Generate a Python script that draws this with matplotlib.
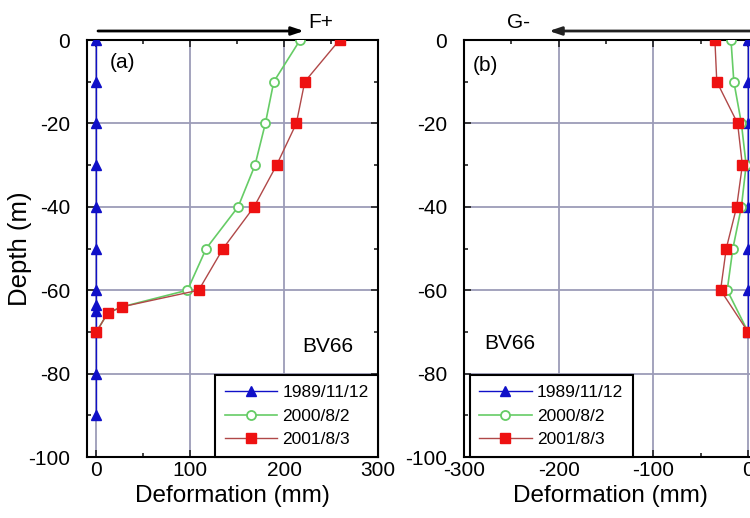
import matplotlib
matplotlib.use('Agg')
import matplotlib.pyplot as plt
from matplotlib.ticker import MultipleLocator

plt.rcParams['font.family'] = ['Liberation Sans', 'DejaVu Sans']
plt.rcParams['axes.unicode_minus'] = False

labels = ['1989/11/12', '2000/8/2', '2001/8/3']

# Panel (a) data
a_depth_1989 = [0, -10, -20, -30, -40, -50, -60, -63.5, -65, -70, -80, -90]
a_def_1989 = [0, 0, 0, 0, 0, 0, 0, 0, 0, 0, 0, 0]
a_depth_2000 = [0, -10, -20, -30, -40, -50, -60, -64, -65.5, -70]
a_def_2000 = [217, 189, 180, 169, 151, 117, 97, 27, 12, 0]
a_depth_2001 = [0, -10, -20, -30, -40, -50, -60, -64, -65.5, -70]
a_def_2001 = [259, 222, 213, 192, 168, 135, 109, 27, 12, 0]

# Panel (b) data
b_depth = [0, -10, -20, -30, -40, -50, -60, -70]
b_def_1989 = [0, 0, 0, 0, 0, 0, 0, 0]
b_def_2000 = [-18, -15, -7, -2, -7, -16, -22, 0]
b_def_2001 = [-35, -33, -11, -6, -12, -23, -29, 0]

W, H = 750, 518
fig = plt.figure(figsize=(7.5, 5.18), dpi=100)

def px_axes(l, r, t, b):
    return fig.add_axes([l / W, 1 - b / H, (r - l) / W, (b - t) / H])

axa = px_axes(87, 378, 40, 457)
axb = px_axes(464, 757.5, 40, 457)

blue = '#1010c8'
green = '#66cc66'
red_line = '#b04848'
red_mk = '#ee1111'
grid_c = '#9c9cb8'

def style(ax, xlim, xticks):
    ax.set_xlim(*xlim)
    ax.set_ylim(-100, 0)
    ax.set_xticks(xticks)
    ax.set_yticks([0, -20, -40, -60, -80, -100])
    ax.xaxis.set_minor_locator(MultipleLocator(50))
    ax.yaxis.set_minor_locator(MultipleLocator(10))
    ax.tick_params(which='both', direction='in', top=True, right=True,
                   width=1.2, color='#222222')
    ax.tick_params(which='major', length=5, labelsize=15)
    ax.tick_params(which='minor', length=3)
    ax.tick_params(axis='x', pad=3)
    ax.tick_params(axis='y', pad=12)
    ax.grid(True, which='major', color=grid_c, lw=1.3)
    ax.set_axisbelow(True)
    for s in ax.spines.values():
        s.set_linewidth(1.5)
    ax.set_xlabel('Deformation (mm)', fontsize=17.5)
    ax.xaxis.set_label_coords(0.5, -0.068)

def plot_series(ax, d1, x1, d2, x2, d3, x3):
    ax.plot(x1, d1, color=blue, lw=1.0, marker='^', ms=7, mfc=blue, mec=blue,
            label=labels[0], zorder=3)
    ax.plot(x2, d2, color=green, lw=1.2, marker='o', ms=6.5, mfc='white', mec=green,
            mew=1.3, label=labels[1], zorder=4)
    ax.plot(x3, d3, color=red_line, lw=1.0, marker='s', ms=7, mfc=red_mk, mec=red_mk,
            label=labels[2], zorder=5)

plot_series(axa, a_depth_1989, a_def_1989, a_depth_2000, a_def_2000,
            a_depth_2001, a_def_2001)
plot_series(axb, b_depth, b_def_1989, b_depth, b_def_2000, b_depth, b_def_2001)

style(axa, (-10, 300), [0, 100, 200, 300])
style(axb, (-300, 10), [-300, -200, -100, 0])

axa.set_ylabel('Depth (m)', fontsize=18.5)
axa.yaxis.set_label_coords(-0.19, 0.5)

leg_kw = dict(fontsize=12.5, handlelength=3.0, handletextpad=0.3, labelspacing=0.5,
              borderpad=0.55, fancybox=False, framealpha=1, edgecolor='black',
              borderaxespad=0)
la = axa.legend(loc='lower right', bbox_to_anchor=(1.0, 0.0), **leg_kw)
la.get_frame().set_linewidth(1.5)
lb = axb.legend(loc='lower left', bbox_to_anchor=(0.02, 0.0), **leg_kw)
lb.get_frame().set_linewidth(1.5)

axa.text(0.079, 0.947, '(a)', transform=axa.transAxes, fontsize=15, va='center')
axb.text(0.031, 0.94, '(b)', transform=axb.transAxes, fontsize=15, va='center')
axa.text(0.739, 0.264, 'BV66', transform=axa.transAxes, fontsize=15, va='center')
axb.text(0.068, 0.273, 'BV66', transform=axb.transAxes, fontsize=15, va='center')

# Direction arrows
axa.annotate('', xy=(304, H - 31), xytext=(98, H - 31), xycoords='figure pixels',
             textcoords='figure pixels',
             arrowprops=dict(arrowstyle='-|>,head_length=0.6,head_width=0.2', lw=2,
                             color='black', mutation_scale=12, shrinkA=0, shrinkB=0))
fig.text(308 / W, 1 - 22 / H, 'F+', fontsize=15, va='center', ha='left')
axb.annotate('', xy=(549, H - 31), xytext=(770, H - 31), xycoords='figure pixels',
             textcoords='figure pixels',
             arrowprops=dict(arrowstyle='-|>,head_length=0.6,head_width=0.2', lw=2,
                             color='#222222', mutation_scale=12, shrinkA=0, shrinkB=0))
fig.text(507 / W, 1 - 23 / H, 'G-', fontsize=15, va='center', ha='left')

fig.savefig('out.png', dpi=100)
